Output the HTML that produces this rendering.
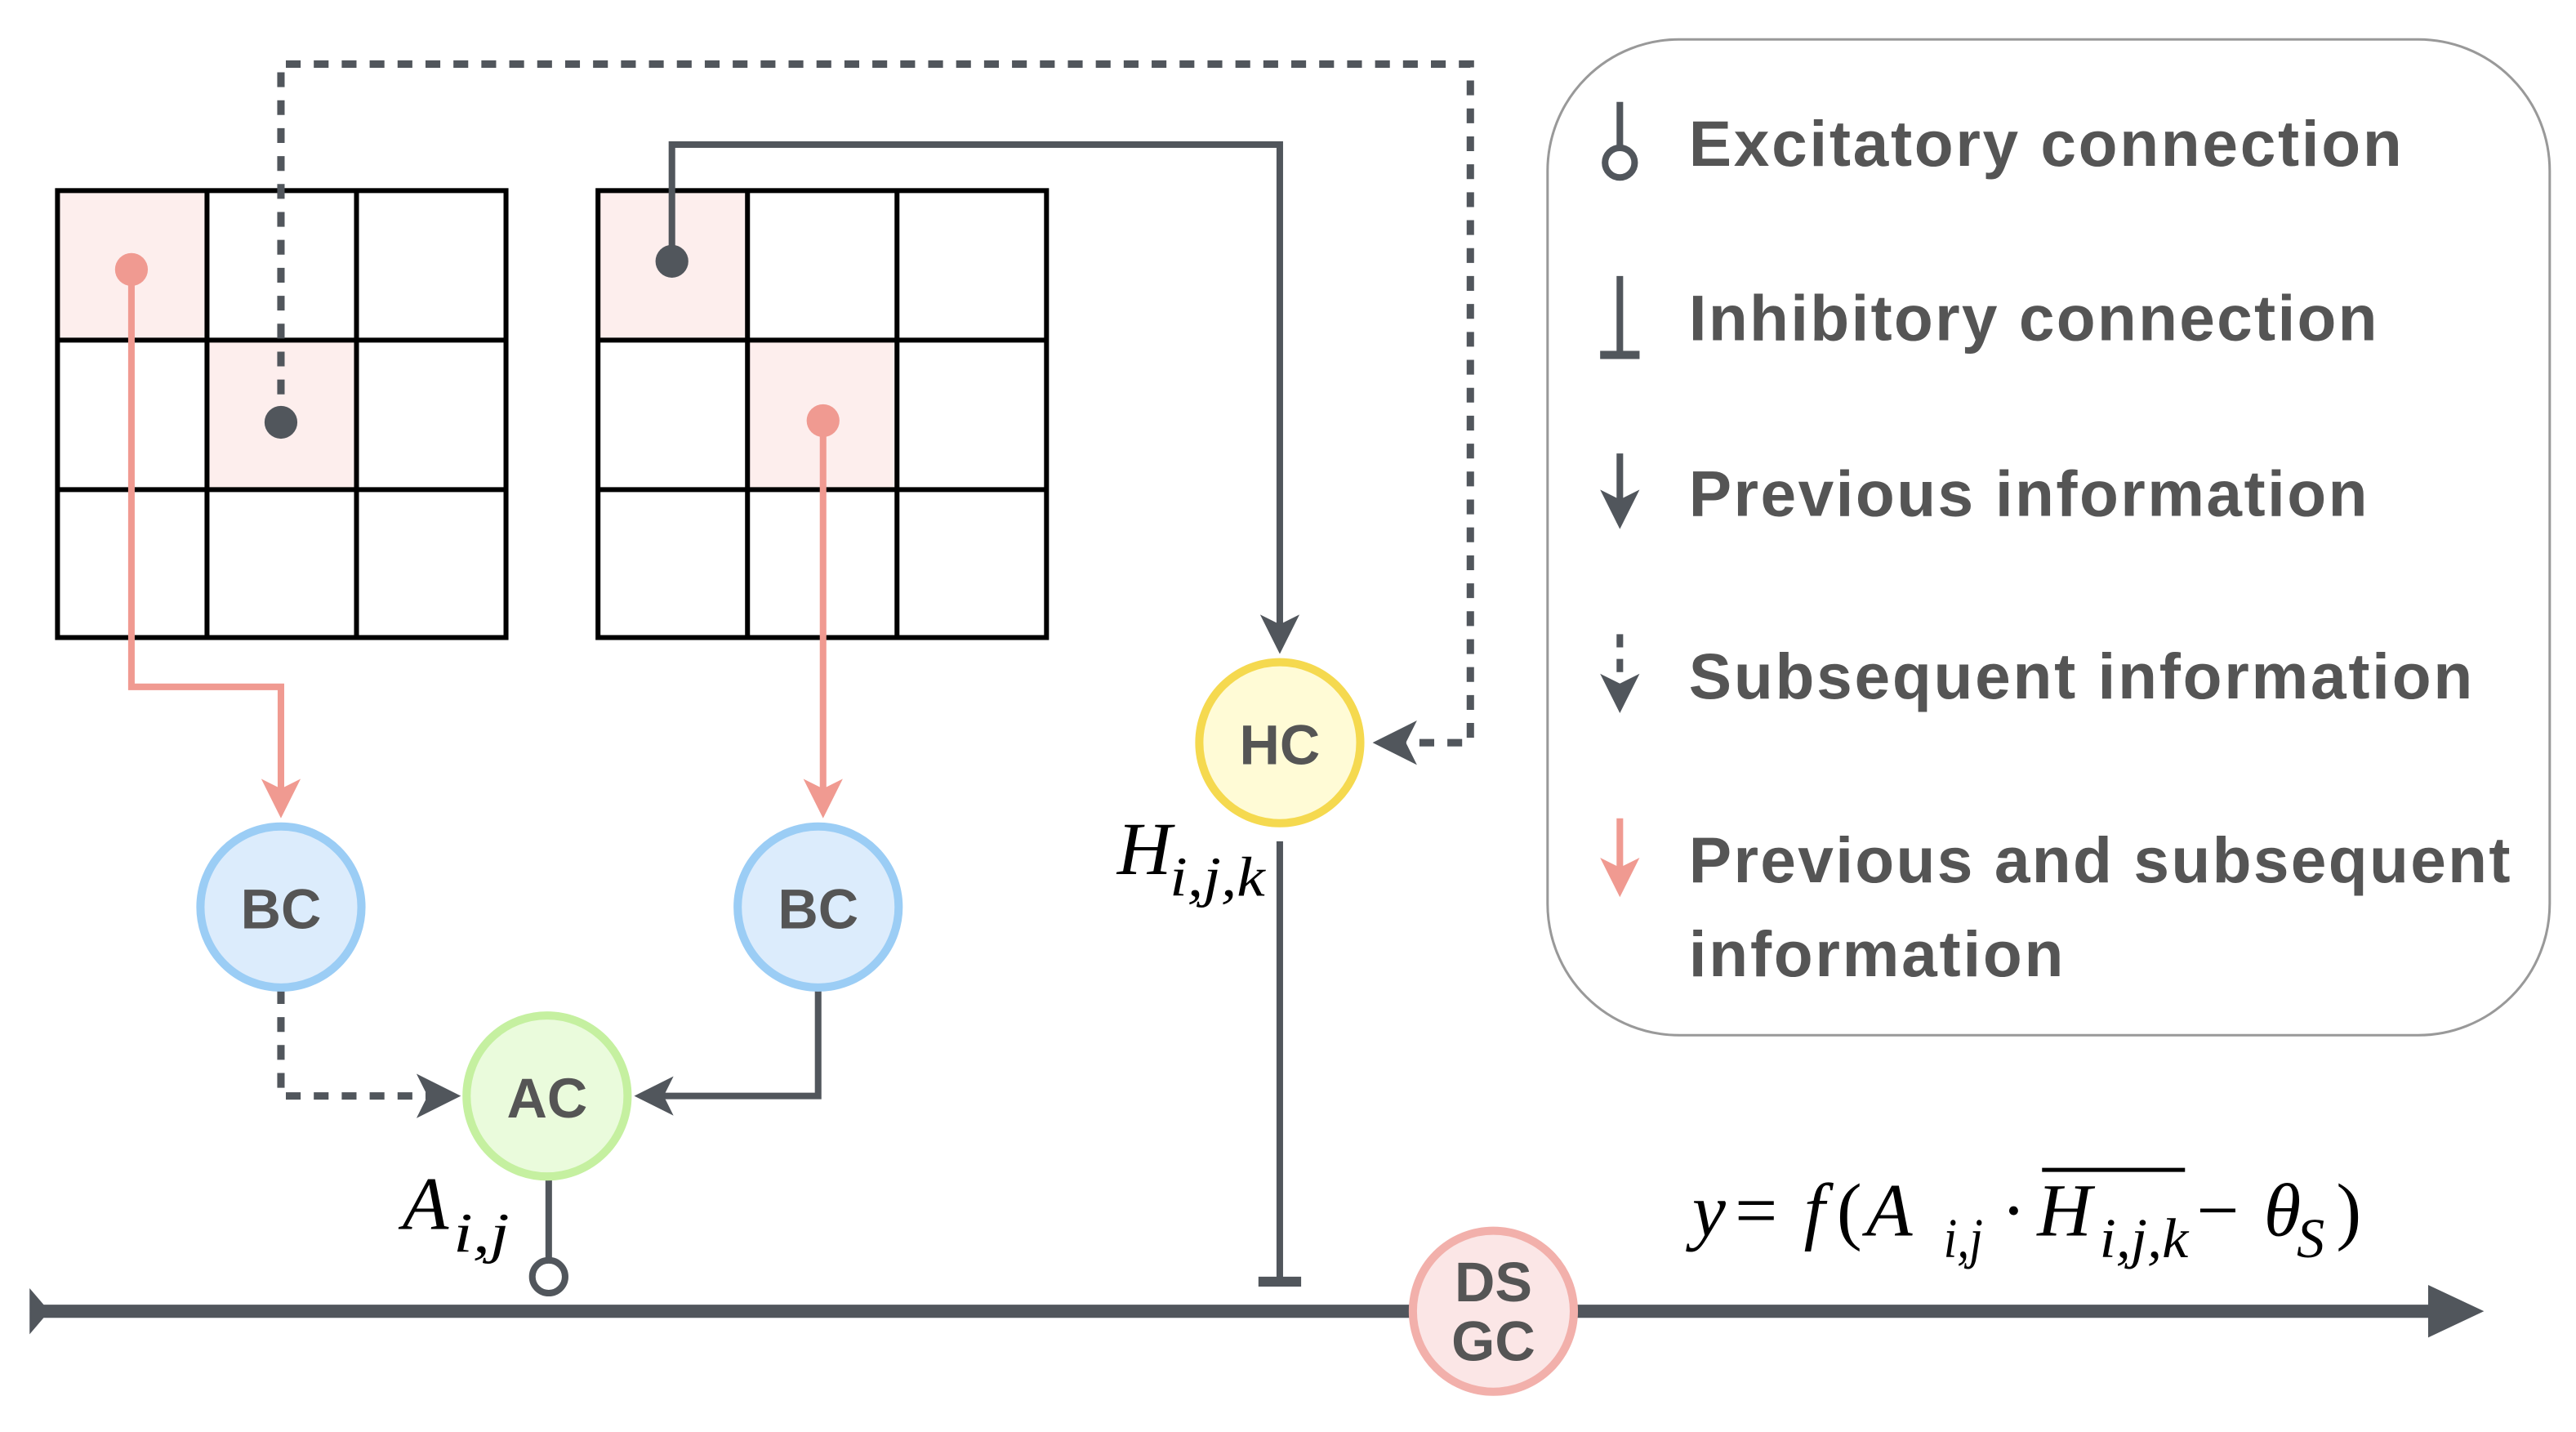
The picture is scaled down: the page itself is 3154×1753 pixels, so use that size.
<!DOCTYPE html>
<html><head><meta charset="utf-8"><style>
html,body{margin:0;padding:0;background:#fff;}
svg{display:block;}
</style></head><body>
<svg width="3154" height="1753" viewBox="0 0 1568 871.5" xmlns="http://www.w3.org/2000/svg" font-family="Liberation Sans, sans-serif">
<defs>
<marker id="ad" markerWidth="6" markerHeight="6" refX="5" refY="3" orient="auto" markerUnits="strokeWidth"><path d="M0,0 L6,3 L0,6 L1.5,3 Z" fill="#51565c"/></marker>
<marker id="ap" markerWidth="6" markerHeight="6" refX="5" refY="3" orient="auto" markerUnits="strokeWidth"><path d="M0,0 L6,3 L0,6 L1.5,3 Z" fill="#f09a91"/></marker>
</defs>
<rect x="35" y="116" width="91" height="91" fill="#fdeeed"/>
<rect x="126" y="207" width="91" height="91" fill="#fdeeed"/>
<rect x="364" y="116" width="91" height="91" fill="#fdeeed"/>
<rect x="455" y="207" width="91" height="91" fill="#fdeeed"/>
<g stroke="#000" stroke-width="3" fill="none">
<rect x="35" y="116" width="273" height="272"/>
<line x1="126" y1="116" x2="126" y2="388"/><line x1="217" y1="116" x2="217" y2="388"/>
<line x1="35" y1="207" x2="308" y2="207"/><line x1="35" y1="298" x2="308" y2="298"/>
<rect x="364" y="116" width="273" height="272"/>
<line x1="455" y1="116" x2="455" y2="388"/><line x1="546" y1="116" x2="546" y2="388"/>
<line x1="364" y1="207" x2="637" y2="207"/><line x1="364" y1="298" x2="637" y2="298"/>
</g>
<path d="M171,257 V39 H895 V452 H840" fill="none" stroke="#51565c" stroke-width="4.5" stroke-dasharray="9,8" marker-end="url(#ad)"/>
<path d="M409,159 V88 H779 V394" fill="none" stroke="#51565c" stroke-width="4" marker-end="url(#ad)"/>
<path d="M80,164 V418 H171 V494" fill="none" stroke="#f09a91" stroke-width="4" marker-end="url(#ap)"/>
<path d="M501,256 V494" fill="none" stroke="#f09a91" stroke-width="4" marker-end="url(#ap)"/>
<circle cx="80" cy="164" r="10" fill="#f09a91"/>
<circle cx="501" cy="256" r="10" fill="#f09a91"/>
<circle cx="171" cy="257" r="10" fill="#51565c"/>
<circle cx="409" cy="159" r="10" fill="#51565c"/>
<path d="M171,602 V667 H276" fill="none" stroke="#51565c" stroke-width="4.5" stroke-dasharray="9,8" marker-end="url(#ad)"/>
<path d="M498,602 V667 H390" fill="none" stroke="#51565c" stroke-width="4" marker-end="url(#ad)"/>
<line x1="334" y1="717" x2="334" y2="766" stroke="#51565c" stroke-width="4"/>
<circle cx="334" cy="777" r="10" fill="#fff" stroke="#51565c" stroke-width="4"/>
<line x1="779" y1="512" x2="779" y2="780" stroke="#51565c" stroke-width="4"/>
<line x1="766" y1="780" x2="792" y2="780" stroke="#51565c" stroke-width="6"/>
<line x1="20" y1="798" x2="1490" y2="798" stroke="#51565c" stroke-width="8"/>
<path d="M1478,782 L1512,798 L1478,814 Z" fill="#51565c"/>
<path d="M18,784 L30,798 L18,812 Z" fill="#51565c"/>
<g font-weight="bold" font-size="34" fill="#555" text-anchor="middle">
<circle cx="779" cy="452" r="49" fill="#fffbd6" stroke="#f5d94f" stroke-width="5"/>
<text x="779" y="465">HC</text>
<circle cx="171" cy="552" r="49" fill="#dcecfc" stroke="#9bcdf5" stroke-width="5"/>
<text x="171" y="565">BC</text>
<circle cx="498" cy="552" r="49" fill="#dcecfc" stroke="#9bcdf5" stroke-width="5"/>
<text x="498" y="565">BC</text>
<circle cx="333" cy="667" r="49" fill="#eafbdc" stroke="#c5f0a0" stroke-width="5"/>
<text x="333" y="680">AC</text>
<circle cx="909" cy="798" r="49" fill="#fbe6e6" stroke="#f2b0ab" stroke-width="5"/>
<text x="909" y="792">DS</text>
<text x="909" y="828">GC</text>
</g>
<g font-family="Liberation Serif, serif" font-style="italic" fill="#000">
<text x="680" y="532" font-size="46">H</text><text x="712" y="545" font-size="34" textLength="58" lengthAdjust="spacingAndGlyphs">i,j,k</text>
<text x="245" y="748" font-size="46">A</text><text x="276" y="762" font-size="34" textLength="34" lengthAdjust="spacingAndGlyphs">i,j</text>
<text x="1030" y="752" font-size="46">y</text>
<text x="1056" y="752" font-size="46" font-style="normal">=</text>
<text x="1098" y="752" font-size="46">f</text>
<text x="1118" y="752" font-size="46" font-style="normal">(</text>
<text x="1136" y="752" font-size="46">A</text>
<text x="1183" y="765" font-size="34" textLength="24" lengthAdjust="spacingAndGlyphs">i,j</text>
<text x="1218" y="752" font-size="46" font-style="normal">·</text>
<text x="1240" y="752" font-size="46">H</text>
<text x="1278" y="765" font-size="34" textLength="54" lengthAdjust="spacingAndGlyphs">i,j,k</text>
<text x="1337" y="752" font-size="46" font-style="normal">−</text>
<text x="1378" y="752" font-size="46">θ</text>
<text x="1398" y="765" font-size="34">S</text>
<text x="1422" y="752" font-size="46" font-style="normal">)</text>
<line x1="1243" y1="712" x2="1330" y2="712" stroke="#000" stroke-width="2.5"/>
</g>
<rect x="942" y="24" width="610" height="606" rx="80" fill="#fff" stroke="#999" stroke-width="1.5"/>
<g stroke="#51565c" stroke-width="4" fill="none">
<line x1="986" y1="62" x2="986" y2="90"/><circle cx="986" cy="99" r="9" fill="#fff"/>
<line x1="986" y1="168" x2="986" y2="216"/><line x1="974" y1="216" x2="998" y2="216" stroke-width="5"/>
<line x1="986" y1="276" x2="986" y2="318" marker-end="url(#ad)"/>
<line x1="986" y1="386" x2="986" y2="430" stroke-dasharray="8,7" marker-end="url(#ad)"/>
<line x1="986" y1="498" x2="986" y2="542" stroke="#f09a91" marker-end="url(#ap)"/>
</g>
<g font-weight="bold" font-size="39" fill="#555" lengthAdjust="spacingAndGlyphs">
<text x="1028" y="101" textLength="434">Excitatory connection</text>
<text x="1028" y="207" textLength="419">Inhibitory connection</text>
<text x="1028" y="314" textLength="413">Previous information</text>
<text x="1028" y="425" textLength="477">Subsequent information</text>
<text x="1028" y="537" textLength="500">Previous and subsequent</text>
<text x="1028" y="594" textLength="228">information</text>
</g>
</svg>
</body></html>
